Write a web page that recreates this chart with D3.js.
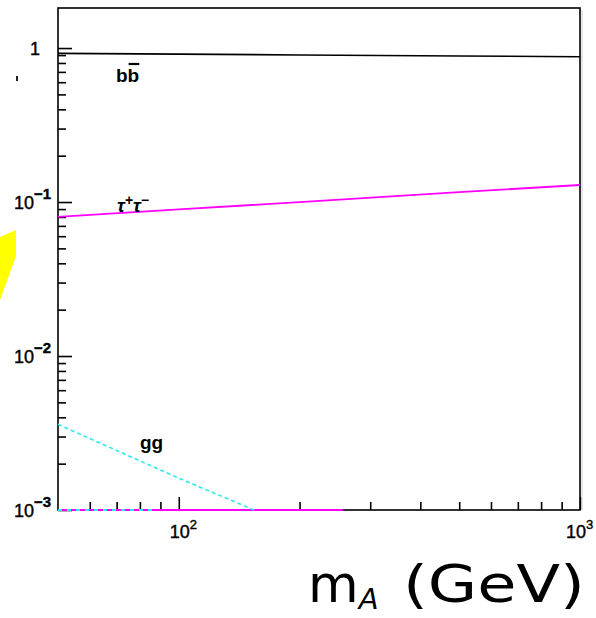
<!DOCTYPE html>
<html>
<head>
<meta charset="utf-8">
<script src="https://cdn.jsdelivr.net/npm/d3@7/dist/d3.min.js"></script>
<style>
  html, body { margin: 0; padding: 0; background: #fff; }
  svg { display: block; }
</style>
</head>
<body>
<svg id="chart" width="596" height="618"></svg>
<script>
// Branching ratios of the pseudoscalar A versus its mass (GeV)
const massBB  = [50, 100, 200, 500, 1000];
const brBB    = [0.924, 0.913, 0.902, 0.888, 0.878];

const massTau = [50, 100, 200, 500, 1000];
const brTau   = [0.0802, 0.0895, 0.0999, 0.116, 0.129];

const massGG  = [50, 100, 154];
const brGG    = [0.0036, 0.00161, 0.001];

// channels sitting on the lower edge of the frame
const massFloorMag  = [50, 257];
const brFloorMag    = [0.001, 0.001];
const massFloorCyan = [50, 88];
const brFloorCyan   = [0.001, 0.001];

const yMajorTicks = [1e-3, 1e-2, 1e-1, 1];
const yTickBase   = ["10", "10", "10", "1"];
const yTickExp    = ["−3", "−2", "−1", ""];
const xMajorTicks = [100, 1000];
const xTickBase   = ["10", "10"];
const xTickExp    = ["2", "3"];

const svg = d3.select("#chart");
const L = 58, R = 580, T = 8, B = 510;

const x = d3.scaleLog().domain([50, 1000]).range([L, R]);
const y = d3.scaleLog().domain([1e-3, 1.82]).range([B, T]);

// decoration on the left margin
svg.append("path")
  .attr("d", "M0,237 L16,230 L16,256 L0,300 Z")
  .attr("fill", "#ffff00");
svg.append("rect").attr("x", 16).attr("y", 76).attr("width", 2).attr("height", 5).attr("fill", "#222");

// minor / major tick values
const yMinor = [];
for (let e = -3; e <= 0; e++) for (let m = 2; m <= 9; m++) {
  const v = m * Math.pow(10, e);
  if (v < 1.82) yMinor.push(v);
}
const xMinor = [];
for (let e = 1; e <= 2; e++) for (let m = 2; m <= 9; m++) {
  const v = m * Math.pow(10, e);
  if (v > 50 && v < 1000) xMinor.push(v);
}

function styleAxis(g) {
  g.select(".domain").remove();
  g.selectAll(".tick line").attr("stroke", "#000").attr("stroke-width", 1.6);
  g.selectAll(".tick text").remove();
}

// left axis ticks point inward
svg.append("g").attr("transform", `translate(${L},0)`)
  .call(d3.axisRight(y).tickValues(yMinor).tickSize(8).tickFormat(""))
  .call(styleAxis);
svg.append("g").attr("transform", `translate(${L},0)`)
  .call(d3.axisRight(y).tickValues(yMajorTicks).tickSize(14).tickFormat(""))
  .call(styleAxis);

// bottom axis ticks point inward
svg.append("g").attr("transform", `translate(0,${B})`)
  .call(d3.axisTop(x).tickValues(xMinor).tickSize(8).tickFormat(""))
  .call(styleAxis);
svg.append("g").attr("transform", `translate(0,${B})`)
  .call(d3.axisTop(x).tickValues(xMajorTicks).tickSize(13).tickFormat(""))
  .call(styleAxis);

// frame
svg.append("line").attr("x1", R + 2).attr("x2", R + 2).attr("y1", T + 2).attr("y2", B)
  .attr("stroke", "#ccc").attr("stroke-width", 1);
svg.append("rect").attr("x", L).attr("y", T).attr("width", R - L).attr("height", B - T)
  .attr("fill", "none").attr("stroke", "#000").attr("stroke-width", 1.6);

// tick labels
const font = "'Liberation Sans', Arial, Helvetica, sans-serif";
yMajorTicks.forEach((v, i) => {
  const t = svg.append("text")
    .attr("font-family", font).attr("font-size", 18).attr("fill", "#000")
    .attr("stroke", "#000").attr("stroke-width", 0.4)
    .attr("y", y(v) + 7);
  if (yTickExp[i]) {
    t.attr("x", 14);
    t.append("tspan").text(yTickBase[i]);
    t.append("tspan").attr("dy", -10).attr("font-size", 15).attr("font-weight", "bold").text(yTickExp[i]);
  } else {
    t.attr("x", 30).text(yTickBase[i]);
  }
});
xMajorTicks.forEach((v, i) => {
  const t = svg.append("text")
    .attr("font-family", font).attr("font-size", 18).attr("fill", "#000")
    .attr("stroke", "#000").attr("stroke-width", 0.4)
    .attr("x", Math.min(x(v) - 9, 566)).attr("y", 538);
  t.append("tspan").text(xTickBase[i]);
  t.append("tspan").attr("dy", -9).attr("font-size", 13).text(xTickExp[i]);
});

// curves
const line = d3.line().x(d => x(d[0])).y(d => y(d[1]));
const zip = (a, b) => a.map((m, i) => [m, b[i]]);

svg.append("path").datum(zip(massFloorMag, brFloorMag)).attr("d", line)
  .attr("fill", "none").attr("stroke", "#ff00ff").attr("stroke-width", 2);
svg.append("path").datum(zip(massFloorCyan, brFloorCyan)).attr("d", line)
  .attr("fill", "none").attr("stroke", "#2ee8f0").attr("stroke-width", 2)
  .attr("stroke-dasharray", "4,5");
svg.append("path").datum(zip(massBB, brBB)).attr("d", line)
  .attr("fill", "none").attr("stroke", "#000").attr("stroke-width", 1.6);
svg.append("path").datum(zip(massTau, brTau)).attr("d", line)
  .attr("fill", "none").attr("stroke", "#ff00ff").attr("stroke-width", 1.8);
svg.append("path").datum(zip(massGG, brGG)).attr("d", line)
  .attr("fill", "none").attr("stroke", "#2ee8f0").attr("stroke-width", 1.6)
  .attr("stroke-dasharray", "4,3");

// channel labels
const bbLabel = svg.append("text").attr("font-family", font).attr("font-size", 19)
  .attr("font-weight", "bold").attr("x", 116).attr("y", 82).text("bb");
const bbW = bbLabel.node().getComputedTextLength();
svg.append("line").attr("x1", 116 + bbW / 2 + 1).attr("x2", 116 + bbW).attr("y1", 64).attr("y2", 64)
  .attr("stroke", "#000").attr("stroke-width", 2.2);

const tauLabel = svg.append("text").attr("font-family", font).attr("font-size", 19)
  .attr("font-weight", "bold").attr("font-style", "italic").attr("x", 117).attr("y", 212);
tauLabel.append("tspan").text("τ");
tauLabel.append("tspan").attr("dy", -7).attr("font-size", 14).text("+");
tauLabel.append("tspan").attr("dy", 7).text("τ");
tauLabel.append("tspan").attr("dy", -7).attr("font-size", 14).text("−");

svg.append("text").attr("font-family", font).attr("font-size", 19)
  .attr("font-weight", "bold").attr("x", 140).attr("y", 449).text("gg");

// axis title
const title = svg.append("text").attr("font-family", "'DejaVu Sans', 'Noto Sans', sans-serif")
  .attr("fill", "#000").attr("y", 602);
title.append("tspan").attr("x", 308).attr("font-size", 52).text("m");
title.append("tspan").attr("font-size", 29).attr("font-style", "italic").attr("dy", 7).text("A");
title.append("tspan").attr("x", 403).attr("dy", -7).attr("font-size", 52)
  .attr("textLength", 182).attr("lengthAdjust", "spacingAndGlyphs").text("(GeV)");
</script>
</body>
</html>
